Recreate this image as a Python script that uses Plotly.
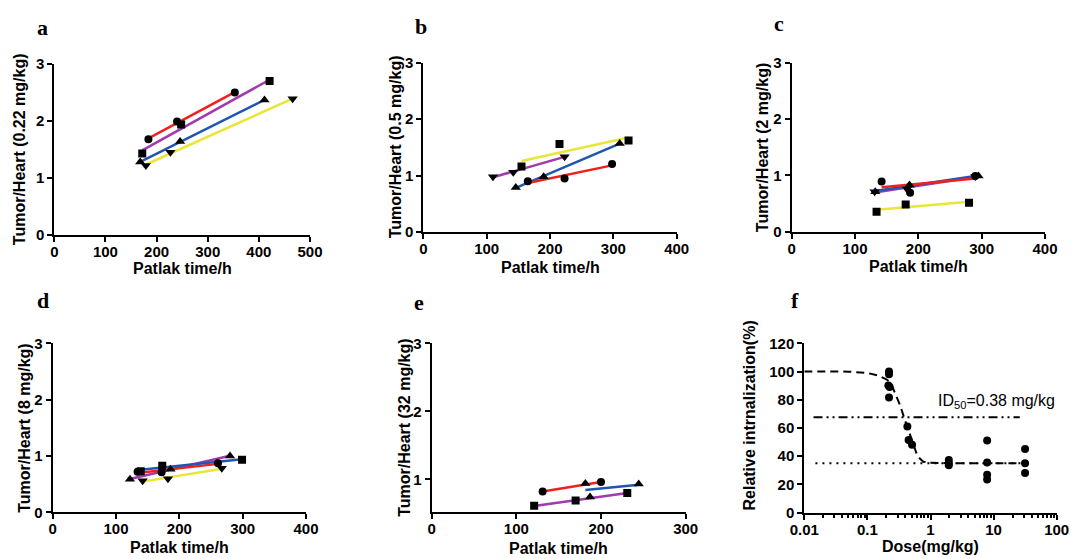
import numpy as np
import plotly.graph_objects as go

# ---------------- data ----------------
RED, PURPLE, BLUE, YELLOW = "#f0201e", "#a03aae", "#1f57b0", "#e8e636"

# panel a (0.22 mg/kg)
a_red_x, a_red_y = [184, 240, 353], [1.68, 1.99, 2.50]
a_pur_x, a_pur_y = [172, 248, 421], [1.43, 1.94, 2.70]
a_blu_x, a_blu_y = [168, 246, 411], [1.28, 1.64, 2.37]
a_yel_x, a_yel_y = [179, 227, 466], [1.22, 1.45, 2.39]
# panel b (0.5 mg/kg)
b_yel_x, b_yel_y = [155, 215, 324], [1.16, 1.56, 1.62]
b_pur_x, b_pur_y = [110, 142, 223], [0.98, 1.06, 1.335]
b_blu_x, b_blu_y = [146, 190, 310], [0.79, 0.98, 1.57]
b_red_x, b_red_y = [165, 223, 298], [0.90, 0.95, 1.205]
# panel c (2 mg/kg)
c_red_x, c_red_y = [142, 187, 290], [0.89, 0.69, 0.99]
c_blu_x, c_blu_y = [132, 186, 295], [0.71, 0.83, 0.99]
c_pur_x, c_pur_y = [131, 182, 290], [0.71, 0.76, 0.98]
c_yel_x, c_yel_y = [134, 180, 280], [0.355, 0.485, 0.515]
# panel d (8 mg/kg)
d_red_x, d_red_y = [134, 172, 261], [0.72, 0.71, 0.87]
d_blu_x, d_blu_y = [139, 173, 299], [0.73, 0.825, 0.935]
d_pur_x, d_pur_y = [122, 186, 280], [0.585, 0.765, 1.0]
d_yel_x, d_yel_y = [142, 182, 267], [0.56, 0.595, 0.78]
# panel e (32 mg/kg)
e_red_x, e_red_y = [131, 200], [0.82, 0.96]
e_blu_x, e_blu_y = [181.5, 187, 244.5], [0.94, 0.74, 0.93]
e_pur_x, e_pur_y = [121, 170, 231], [0.61, 0.69, 0.80]
# panel f (dose response)
f_dose = [0.22, 0.22, 0.215, 0.225, 0.22, 0.43, 0.45, 0.51, 1.95, 1.95, 1.95,
          7.9, 7.9, 7.9, 7.9, 31.5, 31.5, 31.5]
f_resp = [100, 98, 90, 89, 81.5, 61, 51.5, 48, 37.3, 35, 33.5,
          51, 35.4, 26.7, 23.4, 45, 35, 28]
curve_dose = [0.01, 0.05, 0.1, 0.15, 0.2, 0.22, 0.25, 0.3, 0.33, 0.38, 0.44,
              0.5, 0.55, 0.6, 0.65, 0.77, 1.0, 2.0, 32]
curve_resp = [100, 99.9, 99, 97, 94.5, 93, 89, 80.5, 76, 67.5, 59,
              51, 46, 42, 39, 36, 35.2, 35, 35]
half_line_x, half_line_y = [0.014, 26], [67.5, 67.5]
bottom_line_x, bottom_line_y = [0.015, 31], [35, 35]

# ---------------- layout geometry (pixels) ----------------
W, H = 1071, 559
panels = {
    # name: (x0, x1, ytop, ybottom)
    1: (54.3, 310.0, 64.0, 235.0),
    2: (423.3, 676.7, 62.7, 232.0),
    3: (791.7, 1045.0, 62.7, 231.7),
    4: (52.7, 306.0, 343.3, 512.3),
    5: (431.7, 685.7, 343.3, 512.3),
    6: (804.3, 1056.7, 343.3, 512.5),
}

fig = go.Figure()

def add_series(idx, xs, ys, color, symbol, msize=8):
    sfx = "" if idx == 1 else str(idx)
    k, b = np.polyfit(xs, ys, 1)
    xl = [min(xs), max(xs)]
    fig.add_trace(go.Scatter(x=xl, y=[k * v + b for v in xl], mode="lines",
                             line=dict(color=color, width=2.5),
                             xaxis="x" + sfx, yaxis="y" + sfx, hoverinfo="skip"))
    return (xs, ys, symbol, msize, sfx)

panel_series = [
    (1, [(a_red_x, a_red_y, RED, "circle"), (a_pur_x, a_pur_y, PURPLE, "square"),
         (a_blu_x, a_blu_y, BLUE, "triangle-up"), (a_yel_x, a_yel_y, YELLOW, "triangle-down")]),
    (2, [(b_yel_x, b_yel_y, YELLOW, "square"), (b_pur_x, b_pur_y, PURPLE, "triangle-down"),
         (b_blu_x, b_blu_y, BLUE, "triangle-up"), (b_red_x, b_red_y, RED, "circle")]),
    (3, [(c_yel_x, c_yel_y, YELLOW, "square"), (c_pur_x, c_pur_y, PURPLE, "triangle-down"),
         (c_blu_x, c_blu_y, BLUE, "triangle-up"), (c_red_x, c_red_y, RED, "circle")]),
    (4, [(d_yel_x, d_yel_y, YELLOW, "triangle-down"), (d_pur_x, d_pur_y, PURPLE, "triangle-up"),
         (d_red_x, d_red_y, RED, "circle"), (d_blu_x, d_blu_y, BLUE, "square")]),
    (5, [(e_pur_x, e_pur_y, PURPLE, "square"), (e_blu_x, e_blu_y, BLUE, "triangle-up"),
         (e_red_x, e_red_y, RED, "circle")]),
]

markers = []
for idx, series in panel_series:
    for xs, ys, col, sym in series:
        ms = 9 if "triangle" in sym else 8
        markers.append(add_series(idx, xs, ys, col, sym, ms))
for xs, ys, sym, ms, sfx in markers:
    fig.add_trace(go.Scatter(x=xs, y=ys, mode="markers",
                             marker=dict(symbol=sym, size=ms, color="black"),
                             xaxis="x" + sfx, yaxis="y" + sfx))

# panel f
fig.add_trace(go.Scatter(x=half_line_x, y=half_line_y, mode="lines",
                         line=dict(color="black", width=2, dash="9px,4px,2px,4px,2px,4px"),
                         xaxis="x6", yaxis="y6"))
fig.add_trace(go.Scatter(x=bottom_line_x, y=bottom_line_y, mode="lines",
                         line=dict(color="black", width=2, dash="2px,5px"),
                         xaxis="x6", yaxis="y6"))
fig.add_trace(go.Scatter(x=curve_dose, y=curve_resp, mode="lines",
                         line=dict(color="black", width=2, dash="8px,5px"),
                         xaxis="x6", yaxis="y6"))
fig.add_trace(go.Scatter(x=f_dose, y=f_resp, mode="markers",
                         marker=dict(symbol="circle", size=8, color="black"),
                         xaxis="x6", yaxis="y6"))

tickfont = dict(family="Liberation Sans, Arial", size=15, color="black", weight="bold")
axis_common = dict(showline=True, linecolor="black", linewidth=2, ticks="outside",
                   ticklen=5, tickwidth=2, tickcolor="black", showgrid=False,
                   zeroline=False, tickfont=tickfont, fixedrange=True, automargin=False)

xranges = {1: [0, 500], 2: [0, 400], 3: [0, 400], 4: [0, 400], 5: [0, 300]}
layout_axes = {}
for i, (x0, x1, yt, yb) in panels.items():
    sfx = "" if i == 1 else str(i)
    xd = [x0 / W, x1 / W]
    yd = [1 - yb / H, 1 - yt / H]
    if i <= 5:
        xa = dict(axis_common, domain=xd, range=xranges[i], dtick=100, tick0=0,
                  anchor="y" + sfx, ticklabelstandoff=-3)
        if i == 5:
            ya = dict(axis_common, domain=yd, range=[0.515, 3], tickvals=[1, 2, 3],
                      anchor="x" + sfx)
        else:
            ya = dict(axis_common, domain=yd, range=[0, 3], dtick=1, anchor="x" + sfx)
    else:
        minor_vals = [m * 10.0 ** e for e in range(-2, 2) for m in range(2, 10)]
        xa = dict(axis_common, domain=xd, type="log", range=[-2, 2],
                  tickvals=[0.01, 0.1, 1, 10, 100], ticktext=["0.01", "0.1", "1", "10", "100"],
                  minor=dict(tickvals=minor_vals, ticks="outside", ticklen=3,
                             tickwidth=1.5, tickcolor="black"),
                  anchor="y6", ticklabelstandoff=-3)
        ya = dict(axis_common, domain=yd, range=[0, 120], dtick=20, anchor="x6")
    layout_axes["xaxis" + sfx] = xa
    layout_axes["yaxis" + sfx] = ya

titlefont = dict(family="Liberation Sans, Arial", size=16, color="black", weight="bold")
annotations = []
def ann(text, x, y, font, angle=0, xanchor="center"):
    annotations.append(dict(text=text, x=x / W, y=1 - y / H, xref="paper", yref="paper",
                            showarrow=False, font=font, textangle=angle,
                            xanchor=xanchor, yanchor="middle"))

# axis titles
ylabels = {1: ("Tumor/Heart (0.22 mg/kg)", 19.7), 2: ("Tumor/Heart (0.5 mg/kg)", 395),
           3: ("Tumor/Heart (2 mg/kg)", 762), 4: ("Tumor/Heart (8 mg/kg)", 25),
           5: ("Tumor/Heart (32 mg/kg)", 405), 6: ("Relative intrnalization(%)", 748.5)}
for i, (txt, xc) in ylabels.items():
    x0, x1, yt, yb = panels[i]
    yc = (yt + yb) / 2 if i != 6 else 416
    ann(txt, xc, yc, titlefont, angle=-90)
xlabels = {1: ("Patlak time/h", 269), 2: ("Patlak time/h", 267.5), 3: ("Patlak time/h", 266),
           4: ("Patlak time/h", 547.5), 5: ("Patlak time/h", 548.5), 6: ("Dose(mg/kg)", 546)}
for i, (txt, yc) in xlabels.items():
    x0, x1, yt, yb = panels[i]
    ann(txt, (x0 + x1) / 2, yc, titlefont)

# panel letters
letterfont = dict(family="Liberation Serif, Times New Roman", size=22, color="black",
                  weight="bold")
for txt, x, y in [("a", 42, 28), ("b", 421, 27), ("c", 779, 23), ("d", 43, 300),
                  ("e", 419, 302), ("f", 795, 300)]:
    ann(txt, x, y, letterfont)

ann("ID<sub>50</sub>=0.38 mg/kg", 936, 401,
    dict(family="Liberation Sans, Arial", size=16, color="black"), xanchor="left")

fig.update_layout(width=W, height=H, margin=dict(l=0, r=0, t=0, b=0, autoexpand=False),
                  paper_bgcolor="white", plot_bgcolor="white", showlegend=False,
                  annotations=annotations, **layout_axes)

fig.write_html("out.html", config={"displayModeBar": False},
               post_script="document.body.style.margin='0';document.body.style.overflow='hidden';")
